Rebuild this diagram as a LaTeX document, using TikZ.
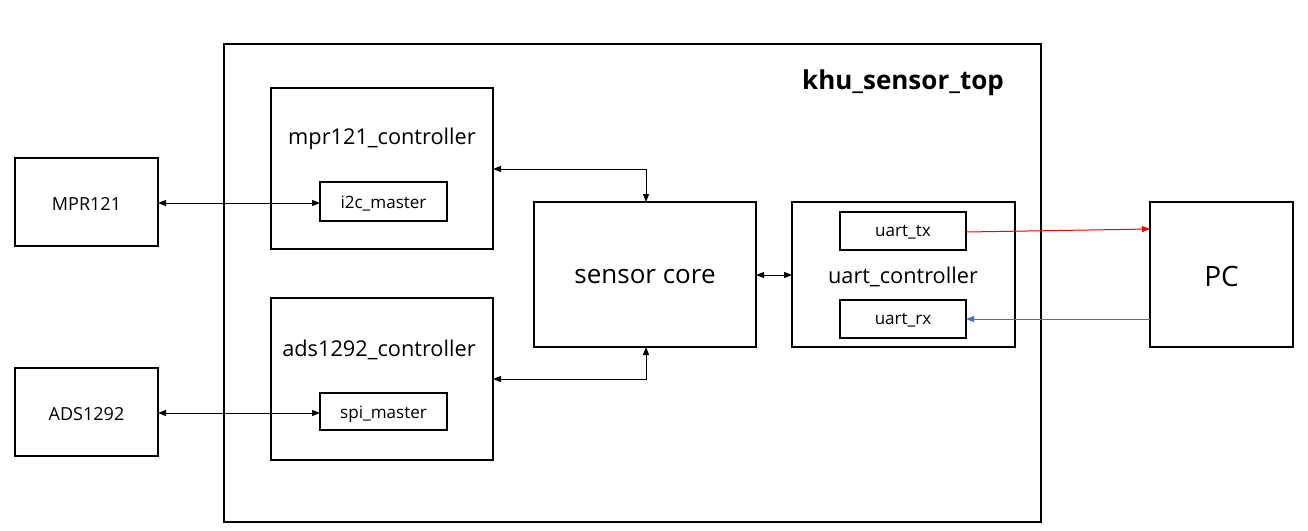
\documentclass[tikz,border=0pt]{standalone}
\usepackage{fontspec}
\setmainfont{Open Sans}
\usetikzlibrary{arrows.meta}
\definecolor{arrred}{RGB}{255,0,0}
\definecolor{arrblue}{RGB}{68,114,196}
\begin{document}
\begin{tikzpicture}[x=0.75pt,y=-0.75pt,
  blk/.style={draw=black,line width=1.5pt,inner sep=0pt},
  ctrl/.style={font=\fontsize{16.3}{19}\selectfont},
  sub/.style={font=\fontsize{12.8}{15}\selectfont},
  ext/.style={font=\fontsize{13.5}{16}\selectfont},
  conn/.style={line width=0.75pt,{Triangle[length=6pt,width=4.5pt]}-{Triangle[length=6pt,width=4.5pt]}},
  oneway/.style={line width=0.75pt,-{Triangle[length=6pt,width=4.5pt]}}]
\useasboundingbox (0,0) rectangle (1308,531);
% outer
\draw[blk] (224,44) rectangle (1041,522);
\node[font=\bfseries\fontsize{19.5}{23}\selectfont] (title) at (903,83) {khu\_sensor\_top};
% external
\draw[blk] (15,158) rectangle (158,246);
\coordinate (mprR) at (158,203);
\node[ext] (mpr) at (86.5,204) {MPR121};
\draw[blk] (15,368) rectangle (158,456);
\coordinate (adsR) at (158,413);
\node[ext] (ads) at (86.5,414) {ADS1292};
% mpr controller
\draw[blk] (271,88) rectangle (493,249);
\node[ctrl] (mprc) at (382,139) {mpr121\_controller};
\coordinate (mprcR) at (493,169);
\draw[blk] (320,182) rectangle (447,221);
\node[sub] (i2c) at (383.5,204) {i2c\_master};
\coordinate (i2cL) at (320,203);
% ads controller
\draw[blk] (271,298) rectangle (493,460);
\node[ctrl] (adsc) at (379,350) {ads1292\_controller};
\coordinate (adscR) at (493,379);
\draw[blk] (320,393) rectangle (447,430);
\node[sub] (spi) at (383.5,414) {spi\_master};
\coordinate (spiL) at (320,413);
% sensor core
\draw[blk] (534,202) rectangle (756,347);
\node[font=\fontsize{19.5}{23}\selectfont] (core) at (645,277) {sensor core};
\coordinate (coreT) at (646,202);
\coordinate (coreB) at (646,347);
\coordinate (coreR) at (756,275);
% uart controller
\draw[blk] (792,202) rectangle (1015,347);
\node[ctrl] (uc) at (903,277) {uart\_controller};
\coordinate (ucL) at (792,275);
\draw[blk] (840,212) rectangle (966,250);
\node[sub] (tx) at (903,232) {uart\_tx};
\coordinate (txR) at (966,232);
\draw[blk] (840,300) rectangle (966,338);
\node[sub] (rx) at (903,320) {uart\_rx};
\coordinate (rxR) at (966,319);
% PC
\draw[blk] (1150,202) rectangle (1293,347);
\node[font=\fontsize{21}{25}\selectfont] (pc) at (1221.5,276) {PC};
\coordinate (pcA) at (1150,229);
\coordinate (pcB) at (1150,319);
% connectors
\draw[conn] (mprR) -- (i2cL);
\draw[conn] (adsR) -- (spiL);
\draw[conn] (mprcR) -| (coreT);
\draw[conn] (adscR) -| (coreB);
\draw[conn] (coreR) -- (ucL);
\draw[oneway,draw=arrred,fill=arrred] (txR) -- (pcA);
\draw[oneway,draw=arrblue,fill=arrblue] (pcB) -- (rxR);
\end{tikzpicture}
\end{document}
